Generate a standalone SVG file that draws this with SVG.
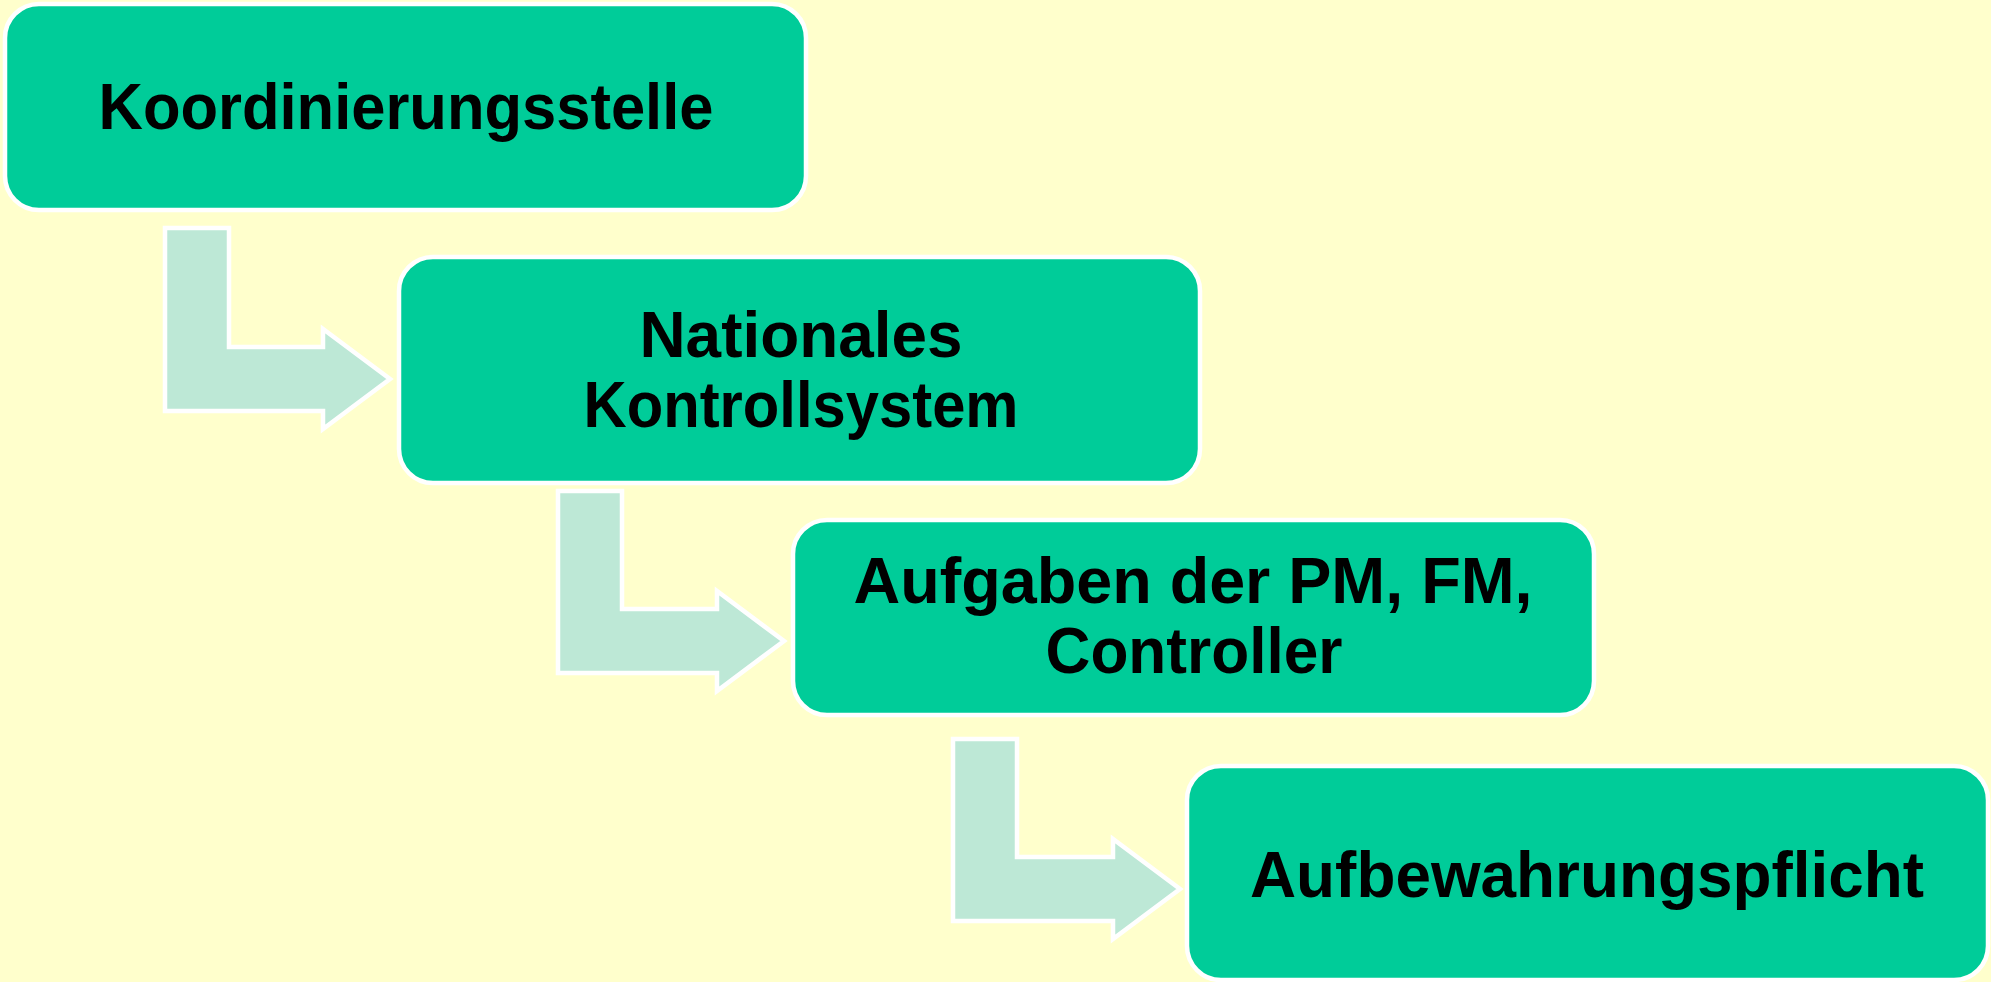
<svg xmlns="http://www.w3.org/2000/svg" width="1991" height="982" viewBox="0 0 1991 982">
<style>
.box{fill:#00CC99;stroke:#FFFFFF;stroke-width:4.5}
.arr{fill:#BDE8D6;stroke:#FFFFFF;stroke-width:4.5;stroke-linejoin:miter}
.lbl{font-family:"Liberation Sans",Arial,sans-serif;font-weight:bold;font-size:65px;fill:#000000;text-anchor:middle}
</style>
<rect x="0" y="0" width="1991" height="982" fill="#FFFFCC"/>
<g id="connectors">
<path class="arr" d="M165,228 H229 V347 H323 V329 L390,379 L323,429 V411 H165 Z"/>
<path class="arr" d="M558,491 H622 V609 H717 V591 L784,641 L717,691 V673 H558 Z"/>
<path class="arr" d="M953,739 H1017 V857 H1113 V839 L1180,889 L1113,939 V921 H953 Z"/>
</g>
<g id="node1">
<rect class="box" x="5" y="4" width="801" height="206" rx="34" ry="34"/>
<text class="lbl" x="406" y="129" textLength="615" lengthAdjust="spacingAndGlyphs">Koordinierungsstelle</text>
</g>
<g id="node2">
<rect class="box" x="399" y="257" width="801" height="226" rx="34" ry="34"/>
<text class="lbl" x="801" y="357" textLength="323" lengthAdjust="spacingAndGlyphs">Nationales</text>
<text class="lbl" x="801" y="427" textLength="435" lengthAdjust="spacingAndGlyphs">Kontrollsystem</text>
</g>
<g id="node3">
<rect class="box" x="793" y="520" width="801" height="195" rx="34" ry="34"/>
<text class="lbl" x="1193" y="603" textLength="679" lengthAdjust="spacingAndGlyphs">Aufgaben der PM, FM,</text>
<text class="lbl" x="1194" y="673" textLength="297" lengthAdjust="spacingAndGlyphs">Controller</text>
</g>
<g id="node4">
<rect class="box" x="1187" y="766" width="801" height="214" rx="34" ry="34"/>
<text class="lbl" x="1587" y="897" textLength="674" lengthAdjust="spacingAndGlyphs">Aufbewahrungspflicht</text>
</g>
</svg>
